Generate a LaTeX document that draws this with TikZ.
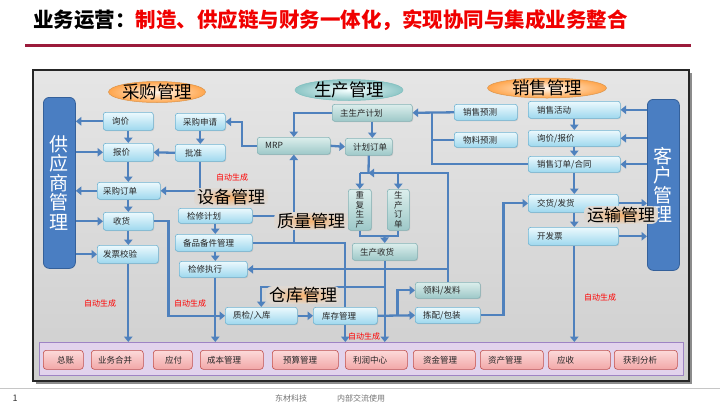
\documentclass[tikz,border=0pt]{standalone}
\usepackage{fontspec}
\setmainfont{Noto Sans CJK SC}
\usetikzlibrary{arrows.meta,shapes.geometric,shadows,calc}
\definecolor{lineblue}{HTML}{4F81BD}
\definecolor{boxtop}{HTML}{ECF9FD}
\definecolor{boxbot}{HTML}{9ED8EE}
\definecolor{boxedge}{HTML}{6FB3D2}
\definecolor{tealtop}{HTML}{DCEEEC}
\definecolor{tealbot}{HTML}{9DC8C8}
\definecolor{tealedge}{HTML}{86B3B6}
\definecolor{fintop}{HTML}{FCDADA}
\definecolor{finbot}{HTML}{F2A7A7}
\definecolor{finedge}{HTML}{C0504D}
\definecolor{contfill}{HTML}{E2D3EC}
\definecolor{contedge}{HTML}{9E84C4}
\definecolor{barfill}{HTML}{4A7EC2}
\definecolor{baredge}{HTML}{34609A}
\definecolor{titlered}{HTML}{F00000}
\definecolor{rule}{HTML}{9B1B3B}
\definecolor{glowin}{HTML}{F6B270}
\definecolor{glowout}{HTML}{DED8D2}
\newcommand\mkbox[8][8.5]{%
  \pgfmathsetmacro\mkbw{#6-#4}%
  \pgfmathsetmacro\mkbh{#7-#5}%
  \node[#2, anchor=north west, minimum width=\mkbw pt, minimum height=\mkbh pt] (#3) at (#4,#5) {};
  \node[lbl, anchor=west] (#3t) at ([xshift=#1pt]#3.west) {#8};}
\begin{document}
\begin{tikzpicture}[x=1pt,y=-1pt,
  bbox/.style={draw=boxedge, line width=0.6pt, rounded corners=2.5pt, top color=boxtop, bottom color=boxbot, inner sep=0pt,
    drop shadow={shadow xshift=0.8pt, shadow yshift=-0.8pt, opacity=0.25}},
  tbox/.style={draw=tealedge, line width=0.6pt, rounded corners=2.5pt, top color=tealtop, bottom color=tealbot, inner sep=0pt,
    drop shadow={shadow xshift=0.8pt, shadow yshift=-0.8pt, opacity=0.25}},
  finbox/.style={draw=finedge, line width=0.6pt, rounded corners=3pt, top color=fintop, bottom color=finbot, inner sep=0pt},
  lbl/.style={inner sep=0pt, font=\fontsize{8.5}{9}\selectfont, text=black!85},
  arr/.style={draw=lineblue, line width=2.3pt, -{Triangle[length=5.5pt,width=8.5pt]}},
  ln/.style={draw=lineblue, line width=2.3pt},
  redl/.style={text=red, font=\fontsize{8}{9}\selectfont, inner sep=0pt},
  glowl/.style={font=\fontsize{17}{18}\selectfont, inner xsep=3pt, inner ysep=1pt, rounded corners=6pt,
    inner color=glowin, outer color=glowout},
  bar/.style={fill=barfill, draw=baredge, line width=0.8pt, rounded corners=6pt, anchor=north west, minimum width=32pt, inner sep=0pt},
  bartext/.style={text=white, font=\fontsize{19}{19.5}\selectfont, align=center, inner sep=0pt},
  elltext/.style={font=\fontsize{17.5}{18}\selectfont, inner sep=0pt}
]
\useasboundingbox (0,0) rectangle (720,405);
\fill[white] (0,0) rectangle (720,405);

% title
\node[anchor=west, inner sep=0pt, font=\fontsize{20.5}{22}\selectfont\bfseries] (title) at (33,20)
  {业务运营：\textcolor{titlered}{制造、供应链与财务一体化，实现协同与集成业务整合}};
\draw[rule, line width=3pt] (25,45) -- (691,45);

% footer
\draw[gray!45, line width=0.6pt] (0,388) -- (720,388);
\node[inner sep=0pt, font=\fontsize{9}{10}\selectfont, text=black!80] (pg) at (15,398) {1};
\node[inner sep=0pt, font=\fontsize{8}{9}\selectfont, text=black!55] (ft1) at (291,398) {东材科技};
\node[inner sep=0pt, font=\fontsize{8}{9}\selectfont, text=black!55] (ft2) at (361,398) {内部交流使用};

% frame
\fill[black!45] (36,73) rectangle (692,384);
\path[draw=black!85, line width=1.2pt, top color=black!10, bottom color=black!19] (33,70) rectangle (689,381);

% side bars
\node[bar, minimum height=171pt] (sup) at (43,97) {};
\node[bartext] (supt) at (sup.center) {供\\应\\商\\管\\理};
\node[bar, minimum height=171pt] (cus) at (647,99) {};
\node[bartext] (cust) at (cus.center) {客\\户\\管\\理};

% ellipses
\shade[inner color=orange!8, outer color=orange!70] (157,92) ellipse [x radius=48.5, y radius=10.5];
\draw[orange!80!black!70, line width=0.5pt] (157,92) ellipse [x radius=48.5, y radius=10.5];
\node[elltext] (cggl) at (157,92) {采购管理};
\shade[inner color=cyan!4, outer color=teal!45] (349,90) ellipse [x radius=54, y radius=10.5];
\draw[teal!50, line width=0.5pt] (349,90) ellipse [x radius=54, y radius=10.5];
\node[elltext] (scgl) at (349,90) {生产管理};
\shade[inner color=orange!8, outer color=orange!70] (547,88) ellipse [x radius=59.5, y radius=10];
\draw[orange!80!black!70, line width=0.5pt] (547,88) ellipse [x radius=59.5, y radius=10];
\node[elltext] (xsgl) at (547,88) {销售管理};

% finance container
\node[draw=contedge, fill=contfill, line width=0.8pt, anchor=north west, minimum width=644pt, minimum height=33pt, inner sep=0pt] (fin) at (39,342) {};

% procurement boxes
\mkbox[9]{bbox}{xj}{103}{112}{153}{130}{询价}
\mkbox[10]{bbox}{bj}{103}{143}{153}{161}{报价}
\mkbox[6]{bbox}{cgdd}{97}{182}{160}{199}{采购订单}
\mkbox[10]{bbox}{sh}{103}{212}{153}{230}{收货}
\mkbox[6]{bbox}{fpjy}{97}{245}{158}{263}{发票校验}
\mkbox[8]{bbox}{cgsq}{175}{113}{225}{130}{采购申请}
\mkbox[10]{bbox}{pz}{175}{144}{225}{161}{批准}
% production boxes
\mkbox[8]{tbox}{mrp}{257}{137}{330}{154}{MRP}
\mkbox[8]{tbox}{zsc}{332}{104}{412}{121}{主生产计划}
\mkbox[8]{tbox}{jhdd}{345}{138}{392}{155}{计划订单}
\node[tbox, anchor=north west, minimum width=23pt, minimum height=41pt] (cfsc) at (348,189) {};
\node[lbl, align=center, font=\fontsize{8.5}{9.5}\selectfont] (cfsct) at (cfsc.center) {重\\复\\生\\产};
\node[tbox, anchor=north west, minimum width=22pt, minimum height=41pt] (scdd) at (387,189) {};
\node[lbl, align=center, font=\fontsize{8.5}{9.5}\selectfont] (scddt) at (scdd.center) {生\\产\\订\\单};
\mkbox[8]{tbox}{scsh}{352}{243}{417}{260}{生产收货}
% equipment boxes
\mkbox[9]{bbox}{jxjh}{178}{208}{252}{223}{检修计划}
\mkbox[8]{bbox}{bpbj}{175}{234}{252}{251}{备品备件管理}
\mkbox[9]{bbox}{jxzx}{179}{261}{247}{277}{检修执行}
% warehouse boxes
\mkbox[8]{bbox}{zjrk}{225}{307}{297}{324}{质检/入库}
\mkbox[9]{bbox}{kcgl}{313}{307}{377}{324}{库存管理}
\mkbox[8]{tbox}{llfl}{415}{282}{480}{298}{领料/发料}
\mkbox[8]{bbox}{jpbz}{415}{307}{480}{323}{拣配/包装}
% sales boxes
\mkbox[9]{bbox}{xsyc}{454}{104}{517}{120}{销售预测}
\mkbox[9]{bbox}{wlyc}{454}{132}{517}{147}{物料预测}
\mkbox[9]{bbox}{xshd}{528}{101}{620}{118}{销售活动}
\mkbox[9]{bbox}{xjbj}{528}{130}{620}{146}{询价/报价}
\mkbox[9]{bbox}{xsdd}{528}{156}{620}{172}{销售订单/合同}
\mkbox[9]{bbox}{jhfh}{528}{194}{618}{212}{交货/发货}
\mkbox[9]{bbox}{kfp}{528}{227}{618}{245}{开发票}
% finance boxes
\mkbox[14]{finbox}{f1}{43}{350}{83}{369}{总账}
\mkbox[7]{finbox}{f2}{91}{350}{143}{369}{业务合并}
\mkbox[12]{finbox}{f3}{153}{350}{192}{369}{应付}
\mkbox[7]{finbox}{f4}{200}{350}{263}{369}{成本管理}
\mkbox[11]{finbox}{f5}{272}{350}{338}{369}{预算管理}
\mkbox[8]{finbox}{f6}{345}{350}{407}{369}{利润中心}
\mkbox[10]{finbox}{f7}{413}{350}{475}{369}{资金管理}
\mkbox[8]{finbox}{f8}{480}{350}{543}{369}{资产管理}
\mkbox[9]{finbox}{f9}{548}{350}{610}{369}{应收}
\mkbox[9]{finbox}{f10}{614}{350}{677}{369}{获利分析}

\coordinate (bus) at (368.5,173);
\coordinate (mj) at (384.5,236);
\coordinate (qy) at (0,287);

% procurement connectors
\draw[arr] (xj.west) -- (xj.west -| sup.east);
\draw[arr] (sup.east |- bj.west) -- (bj.west);
\draw[arr] (xj.south) -- (bj.north);
\draw[arr] (bj.south) -- (bj.south |- cgdd.north);
\draw[arr] (cgdd.west) -- (cgdd.west -| sup.east);
\draw[arr] (sh.north |- cgdd.south) -- (sh.north);
\draw[arr] (sup.east |- sh.west) -- (sh.west);
\draw[arr] (sh.south) -- (sh.south |- fpjy.north);
\draw[arr] (sup.east |- fpjy.west) -- (fpjy.west);
\draw[arr] (sh.south |- fpjy.south) -- (sh.south |- fin.north);
\draw[arr] (cgsq.south) -- (pz.north);
\draw[arr] (pz.west) -- (bj.east);
\draw[arr] (pz.south) |- (cgdd.east);
\draw[arr] (mrp.west) -- ([xshift=-15pt]mrp.west) |- (cgsq.east);
\draw[arr] (sh.east) -- ([xshift=15pt]sh.east) |- (zjrk.west);

% equipment connectors
\draw[arr] (jxjh.south) -- (jxjh.south |- bpbj.north);
\draw[arr] (jxjh.south |- bpbj.south) -- (jxjh.south |- jxzx.north);
\draw[arr] (jxjh.south |- jxzx.south) -- (jxjh.south |- fin.north);
\draw[ln] (jxjh.east) -- (jxjh.east -| mrp.south);
\draw[arr] (bpbj.east) -| (mrp.south);
\draw[ln] (mrp.south |- bpbj.east) -| (kcgl.north);
\draw[arr] (kcgl.south) -- (kcgl.south |- fin.north);

% production connectors
\draw[arr] (zsc.west) -| (mrp.north);
\draw[arr] (zsc.south) -- (zsc.south |- jhdd.north);
\draw[arr] (mrp.east) -- (jhdd.west);
\draw[ln] (jhdd.south) -- (bus);
\draw[ln] (cfsc.north |- bus) -- (scdd.north |- bus);
\draw[arr] (cfsc.north |- bus) -- (cfsc.north);
\draw[arr] (scdd.north |- bus) -- (scdd.north);
\draw[arr] (llfl.north) -- (llfl.north |- bus) -- (bus);
\draw[arr] (llfl.north |- jxzx.east) -- (jxzx.east);
\draw[ln] (cfsc.south) |- (mj) -| (scdd.south);
\draw[arr] (mj) -- (scsh.north);
\draw[arr] (scsh.south) -- (scsh.south |- fin.north);
\draw[arr] (scsh.south |- qy) -| (zjrk.north);
\draw[arr] (zjrk.east) -- (kcgl.west);
\draw[arr] (kcgl.east) -- (jpbz.west);
\draw[arr] ([xshift=20pt]kcgl.east) |- (llfl.west);
\draw[arr] (jpbz.east) -- ([xshift=23pt]jpbz.east) |- (jhfh.west);

% sales connectors
\draw[arr] (xsyc.west) -- (zsc.east);
\draw[ln] (xsdd.west) -| ([xshift=-22pt]xsyc.west);
\draw[ln] (wlyc.west) -- ([xshift=-22pt]wlyc.west);
\draw[arr] (xshd.south) -- (xjbj.north);
\draw[arr] (xjbj.south) -- (xsdd.north);
\draw[arr] (xsdd.south) -- (xsdd.south |- jhfh.north);
\draw[arr] (xsdd.south |- jhfh.south) -- (xsdd.south |- kfp.north);
\draw[arr] (cus.west |- xshd.east) -- (xshd.east);
\draw[arr] (cus.west |- xjbj.east) -- (xjbj.east);
\draw[arr] (cus.west |- xsdd.east) -- (xsdd.east);
\draw[arr] (jhfh.east) -- (jhfh.east -| cus.west);
\draw[arr] (kfp.east) -- (kfp.east -| cus.west);
\draw[arr] (xsdd.south |- kfp.south) -- (xsdd.south |- fin.north);

% red labels
\node[redl] (r1) at (232,177) {自动生成};
\node[redl] (r2) at (100,303) {自动生成};
\node[redl] (r3) at (190,303) {自动生成};
\node[redl] (r4) at (364,336) {自动生成};
\node[redl] (r5) at (600,297) {自动生成};

% glow labels
\node[glowl] (sbgl) at (231,197) {设备管理};
\node[glowl] (zlgl) at (311,221) {质量管理};
\node[glowl] (ckgl) at (303,295) {仓库管理};
\node[glowl] (ysgl) at (621,215) {运输管理};
\end{tikzpicture}
\end{document}
